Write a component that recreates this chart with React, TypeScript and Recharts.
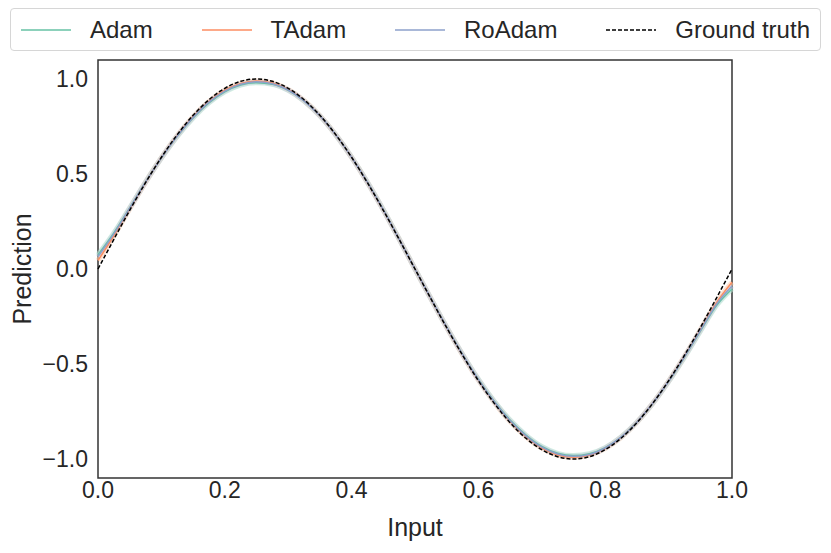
import React from 'react';
import { LineChart, Line, XAxis, YAxis, ReferenceArea } from 'recharts';

const inputs = [
    0, 0.025, 0.05, 0.075, 0.1, 0.125, 0.15, 0.175, 0.2, 0.225, 0.25, 0.275, 0.3, 0.325, 0.35, 0.375, 0.4, 0.425,
    0.45, 0.475, 0.5, 0.525, 0.55, 0.575, 0.6, 0.625, 0.65, 0.675, 0.7, 0.725, 0.75, 0.775, 0.8, 0.825, 0.85, 0.875,
    0.9, 0.925, 0.95, 0.975, 1,
];
const groundTruth = [
    0, 0.156, 0.309, 0.454, 0.588, 0.707, 0.809, 0.891, 0.951, 0.988, 1.0, 0.988, 0.951, 0.891, 0.809, 0.707, 0.588,
    0.454, 0.309, 0.156, 0, -0.156, -0.309, -0.454, -0.588, -0.707, -0.809, -0.891, -0.951, -0.988, -1.0, -0.988,
    -0.951, -0.891, -0.809, -0.707, -0.588, -0.454, -0.309, -0.156, 0,
];
const adam = [
    0.075, 0.19, 0.322, 0.458, 0.584, 0.698, 0.795, 0.874, 0.932, 0.968, 0.98, 0.972, 0.94, 0.884, 0.806, 0.706, 0.589,
    0.457, 0.312, 0.158, 0.0, -0.155, -0.306, -0.449, -0.58, -0.696, -0.795, -0.874, -0.934, -0.97, -0.982, -0.972,
    -0.94, -0.884, -0.806, -0.708, -0.593, -0.465, -0.328, -0.195, -0.105,
];
const tadam = [
    0.045, 0.175, 0.316, 0.456, 0.586, 0.703, 0.802, 0.882, 0.941, 0.977, 0.99, 0.979, 0.945, 0.887, 0.807, 0.706,
    0.588, 0.455, 0.31, 0.157, 0.0, -0.156, -0.308, -0.452, -0.585, -0.702, -0.803, -0.883, -0.943, -0.979, -0.991,
    -0.98, -0.945, -0.887, -0.807, -0.707, -0.59, -0.46, -0.32, -0.18, -0.07,
];
const roadam = [
    0.065, 0.185, 0.32, 0.457, 0.585, 0.7, 0.798, 0.878, 0.936, 0.972, 0.985, 0.975, 0.942, 0.885, 0.806, 0.706, 0.588,
    0.456, 0.311, 0.157, 0.0, -0.155, -0.307, -0.45, -0.582, -0.699, -0.799, -0.878, -0.938, -0.974, -0.986, -0.976,
    -0.942, -0.885, -0.806, -0.707, -0.591, -0.462, -0.324, -0.188, -0.09,
];
const xTicks = [0, 0.2, 0.4, 0.6, 0.8, 1];
const yTicks = [-1, -0.5, 0, 0.5, 1];

const series = [
    { key: 'adam', name: 'Adam', color: '#66c2a5', band: '#b3e2cd' },
    { key: 'tadam', name: 'TAdam', color: '#fc8d62', band: '#fdcdac' },
    { key: 'roadam', name: 'RoAdam', color: '#8da0cb', band: '#c9d4e8' },
];

const FONT = '"Liberation Sans", Arial, sans-serif';
const INK = '#262626';

const fmt = (v: number) => v.toFixed(1).replace('-', '\u2212');

// legend sits in its own box above the axes, like the matplotlib one
const LegendBox = () => {
    const items = [
        ...series.map((s) => ({ name: s.name, color: s.color, dash: undefined as string | undefined })),
        { name: 'Ground truth', color: '#000', dash: '4 2' },
    ];
    return (
        <div
            style={{
                position: 'absolute',
                left: 10,
                top: 8,
                width: 811,
                height: 43,
                display: 'flex',
                justifyContent: 'space-between',
                alignItems: 'center',
                boxSizing: 'border-box',
                padding: '0 10px 0 10px',
                border: '1px solid #d6d6d6',
                borderRadius: 4,
                background: '#fff',
                fontFamily: FONT,
                fontSize: 24,
                color: INK,
            }}
        >
            {items.map((it) => (
                <div key={it.name} style={{ display: 'flex', alignItems: 'center' }}>
                    <svg width={50} height={10} style={{ marginRight: 19 }}>
                        <line x1={0} y1={5} x2={50} y2={5} stroke={it.color} strokeWidth={1.5} strokeDasharray={it.dash} />
                    </svg>
                    <span>{it.name}</span>
                </div>
            ))}
        </div>
    );
};

export default function App() {
    const data = inputs.map((x, i) => ({
        x,
        adam: adam[i],
        tadam: tadam[i],
        roadam: roadam[i],
        truth: groundTruth[i],
    }));

    return (
        <div style={{ position: 'absolute', left: 0, top: 0, width: 831, height: 553, background: '#fff' }}>
            <LineChart width={831} height={553} data={data} margin={{ top: 60, right: 99, bottom: 0, left: 18 }}>
                <XAxis
                    dataKey="x"
                    type="number"
                    domain={[0, 1]}
                    ticks={xTicks}
                    tickFormatter={fmt}
                    tickLine={false}
                    tickSize={0}
                    tickMargin={4}
                    axisLine={false}
                    height={75}
                    tick={{ fill: INK, fontSize: 23, fontFamily: FONT }}
                    label={{ value: 'Input', position: 'insideBottom', offset: 17, fill: INK, fontSize: 25, fontFamily: FONT }}
                />
                <YAxis
                    type="number"
                    domain={[-1.1, 1.1]}
                    ticks={yTicks}
                    tickFormatter={fmt}
                    tickLine={false}
                    tickSize={0}
                    tickMargin={10}
                    axisLine={false}
                    width={80}
                    tick={{ fill: INK, fontSize: 23, fontFamily: FONT }}
                    label={{
                        value: 'Prediction',
                        angle: -90,
                        position: 'insideLeft',
                        offset: 4,
                        style: { textAnchor: 'middle' },
                        fill: INK,
                        fontSize: 25,
                        fontFamily: FONT,
                    }}
                />
                <ReferenceArea x1={0} x2={1} y1={-1.1} y2={1.1} fill="none" stroke="#333" strokeWidth={1.5} />
                {series.map((s) => (
                    <Line
                        key={s.key + '-band'}
                        dataKey={s.key}
                        type="monotone"
                        stroke={s.band}
                        strokeWidth={5}
                        strokeOpacity={0.6}
                        dot={false}
                        legendType="none"
                        isAnimationActive={false}
                    />
                ))}
                {series.map((s) => (
                    <Line
                        key={s.key}
                        dataKey={s.key}
                        name={s.name}
                        type="monotone"
                        stroke={s.color}
                        strokeWidth={1.5}
                        dot={false}
                        isAnimationActive={false}
                    />
                ))}
                <Line
                    dataKey="truth"
                    name="Ground truth"
                    type="monotone"
                    stroke="#000"
                    strokeWidth={1.5}
                    strokeDasharray="4 2"
                    dot={false}
                    isAnimationActive={false}
                />
            </LineChart>
            <LegendBox />
        </div>
    );
}
